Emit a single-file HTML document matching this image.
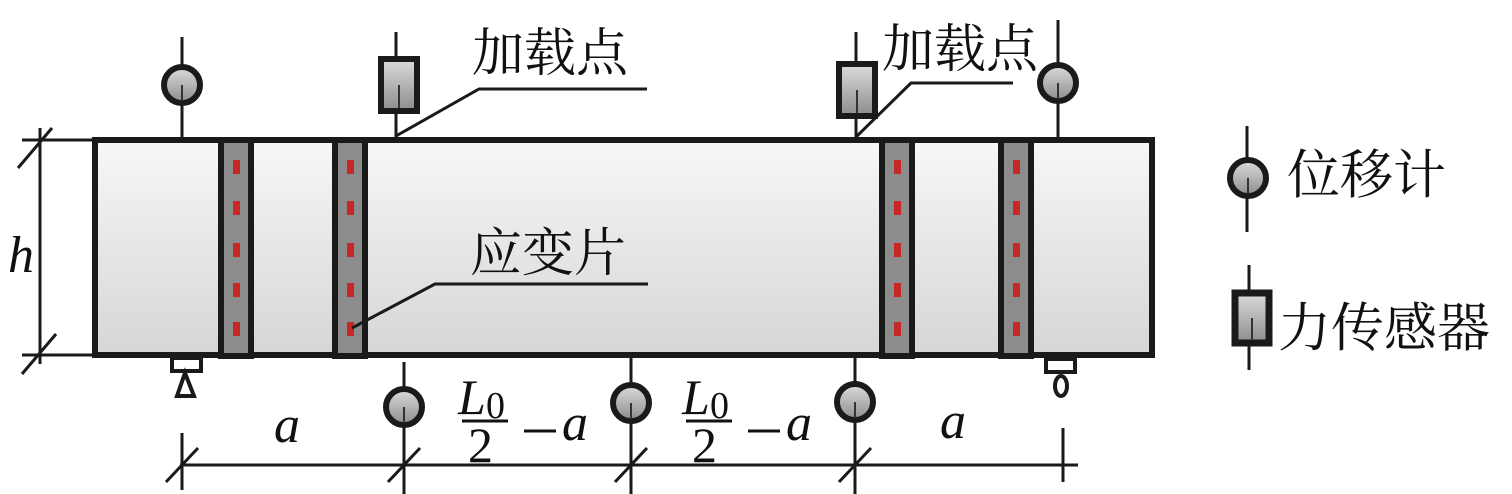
<!DOCTYPE html>
<html><head><meta charset="utf-8"><style>
html,body{margin:0;padding:0;background:#fff;}
svg{display:block;}
.cj{font-family:"Noto Serif CJK SC","Liberation Serif",serif;}
.it{font-family:"Liberation Serif",serif;font-style:italic;}
.rm{font-family:"Liberation Serif",serif;}
</style></head><body>
<svg width="1512" height="494" viewBox="0 0 1512 494" xmlns="http://www.w3.org/2000/svg">
<defs>
<linearGradient id="bg" x1="0" y1="0" x2="0" y2="1"><stop offset="0" stop-color="#f7f7f7"/><stop offset="1" stop-color="#d6d6d6"/></linearGradient>
<linearGradient id="gg" x1="0" y1="0" x2="0" y2="1"><stop offset="0" stop-color="#dcdcdc"/><stop offset="1" stop-color="#8c8c8c"/></linearGradient>
<g id="circ"><circle cx="0" cy="0" r="18" fill="url(#gg)" stroke="#1a1a1a" stroke-width="6"/><line x1="0" y1="0" x2="0" y2="16" stroke="#333" stroke-width="2"/></g>
<g id="box"><rect x="-18" y="-26" width="36" height="52" fill="url(#gg)" stroke="#1a1a1a" stroke-width="6"/><line x1="0" y1="0" x2="0" y2="23" stroke="#333" stroke-width="2"/></g>
<g id="strip"><rect x="0" y="140" width="30" height="216" fill="#8c8c8c" stroke="#1a1a1a" stroke-width="6"/>
<g fill="#c62828"><rect x="12" y="160" width="7" height="14"/><rect x="12" y="201" width="7" height="14"/><rect x="12" y="243" width="7" height="14"/><rect x="12" y="283" width="7" height="14"/><rect x="12" y="322" width="7" height="14"/></g></g>
</defs>
<g stroke="#1a1a1a" stroke-width="3" fill="none">
<line x1="40" y1="128" x2="40" y2="364"/>
<line x1="22" y1="140" x2="93" y2="140"/>
<line x1="22" y1="355" x2="93" y2="355"/>
<line x1="18" y1="168" x2="52" y2="128"/>
<line x1="22" y1="374" x2="56" y2="334"/>
<line x1="182" y1="37" x2="182" y2="140"/>
<line x1="396" y1="32" x2="396" y2="140"/>
<line x1="856" y1="32" x2="856" y2="140"/>
<line x1="1058" y1="20" x2="1058" y2="140"/>
<line x1="404" y1="362" x2="404" y2="494"/>
<line x1="631" y1="357" x2="631" y2="494"/>
<line x1="855" y1="357" x2="855" y2="494"/>
<line x1="1063" y1="428" x2="1063" y2="482"/>
<line x1="182" y1="433" x2="182" y2="490"/>
<line x1="180" y1="465" x2="1078" y2="465"/>
<line x1="166" y1="482" x2="198" y2="448"/>
<line x1="388" y1="482" x2="420" y2="448"/>
<line x1="615" y1="482" x2="647" y2="448"/>
<line x1="839" y1="482" x2="871" y2="448"/>
<line x1="1247" y1="126" x2="1247" y2="232"/>
<line x1="1249" y1="265" x2="1249" y2="370"/>
</g>
<rect x="95" y="140" width="1057" height="215" fill="url(#bg)" stroke="#1a1a1a" stroke-width="6"/>
<use href="#strip" x="221"/>
<use href="#strip" x="335"/>
<use href="#strip" x="882"/>
<use href="#strip" x="1001"/>
<use href="#circ" x="182" y="85"/>
<use href="#box" x="399" y="85"/>
<use href="#box" x="857" y="90"/>
<use href="#circ" x="1058" y="83"/>
<use href="#circ" x="404" y="407"/>
<use href="#circ" x="631" y="403"/>
<use href="#circ" x="855" y="402"/>
<use href="#circ" x="1248" y="178"/>
<g transform="translate(1252,318)"><rect x="-17" y="-25" width="34" height="50" fill="url(#gg)" stroke="#1a1a1a" stroke-width="7"/><line x1="0" y1="0" x2="0" y2="22" stroke="#333" stroke-width="2"/></g>
<g stroke="#1a1a1a" stroke-width="4" fill="#fff">
<rect x="172" y="358" width="29" height="13"/>
<polygon points="185,373 177,396 194,396"/>
<rect x="1046" y="359" width="29" height="13"/>
<ellipse cx="1061" cy="386" rx="6" ry="10"/>
</g>
<g stroke="#1a1a1a" stroke-width="3" fill="none">
<polyline points="396,136 479,89 647,89"/>
<polyline points="856,137 911,83 1013,83"/>
<polyline points="352,328 435,284 648,284"/>
</g>
<g fill="#111">
<text class="cj" x="472" y="71" font-size="52">加载点</text>
<text class="cj" x="882" y="67" font-size="52">加载点</text>
<text class="cj" x="470" y="271" font-size="52">应变片</text>
<text class="cj" x="1287" y="193" font-size="53">位移计</text>
<text class="cj" x="1278" y="346" font-size="53">力传感器</text>
<text class="it" x="8" y="272" font-size="52">h</text>
<text class="it" x="274" y="442" font-size="52">a</text>
<text class="it" x="940" y="438" font-size="52">a</text>
<text class="it" x="458" y="414" font-size="50">L</text><text class="rm" x="486" y="418" font-size="38">0</text>
<line x1="462" y1="421" x2="508" y2="421" stroke="#111" stroke-width="3"/>
<text class="rm" x="468" y="462" font-size="50">2</text>
<line x1="524" y1="431" x2="556" y2="431" stroke="#111" stroke-width="3"/>
<text class="it" x="562" y="440" font-size="52">a</text>
<text class="it" x="682" y="414" font-size="50">L</text><text class="rm" x="710" y="418" font-size="38">0</text>
<line x1="686" y1="421" x2="732" y2="421" stroke="#111" stroke-width="3"/>
<text class="rm" x="692" y="462" font-size="50">2</text>
<line x1="748" y1="431" x2="780" y2="431" stroke="#111" stroke-width="3"/>
<text class="it" x="786" y="440" font-size="52">a</text>
</g>
</svg>
</body></html>
